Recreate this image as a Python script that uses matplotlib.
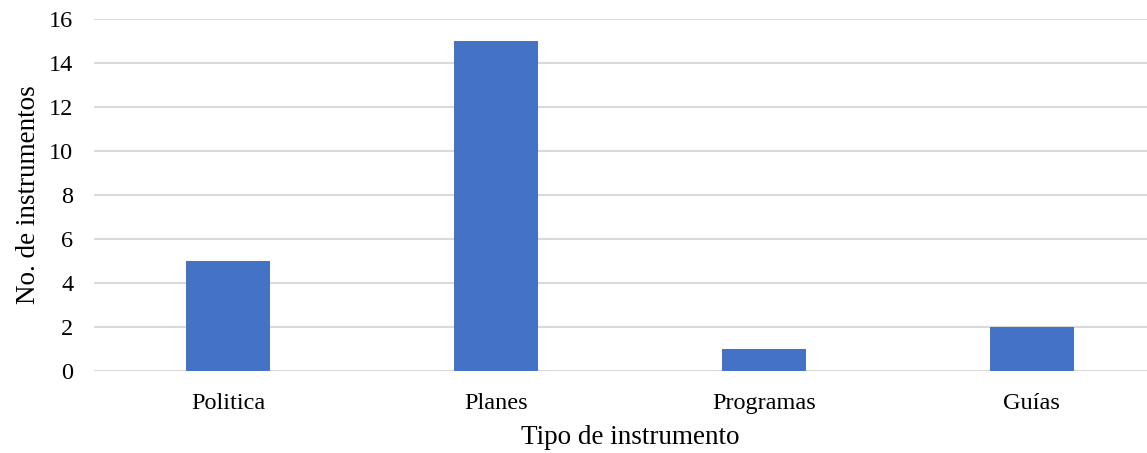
import matplotlib.pyplot as plt

# instrument counts per type
categories = ["Politica", "Planes", "Programas", "Guías"]
counts = [5, 15, 1, 2]
y_ticks = [0, 2, 4, 6, 8, 10, 12, 14, 16]

plt.rcParams["font.family"] = ["Liberation Serif", "DejaVu Serif"]

fig = plt.figure(figsize=(11.47, 4.53), dpi=100)
ax = fig.add_axes([94 / 1147, 82 / 453, 1 - 94 / 1147, (434 - 82) / 453])

x = range(len(categories))
ax.bar(x, counts, width=0.313, color="#4472C4", zorder=3)

ax.set_xlim(-0.5, 3.43)
ax.set_ylim(0, 16)
ax.set_yticks(y_ticks)
ax.set_xticks(list(x))
ax.set_xticklabels(categories)

# light horizontal grid, no frame
ax.grid(axis="y", color="#d9d9d9", linewidth=1.5, zorder=0)
for s in ax.spines.values():
    s.set_visible(False)
ax.tick_params(axis="both", length=0, labelsize=17.5, colors="#000000")
ax.tick_params(axis="y", pad=15)
ax.tick_params(axis="x", pad=16)

ax.set_ylabel("No. de instrumentos", fontsize=19.5)
ax.yaxis.set_label_coords(-53 / 1053, 0.5)
ax.set_xlabel("Tipo de instrumento", fontsize=19.5)
ax.xaxis.set_label_coords((630 - 94) / 1053, -54 / 352)

fig.savefig("out.png", dpi=100)
